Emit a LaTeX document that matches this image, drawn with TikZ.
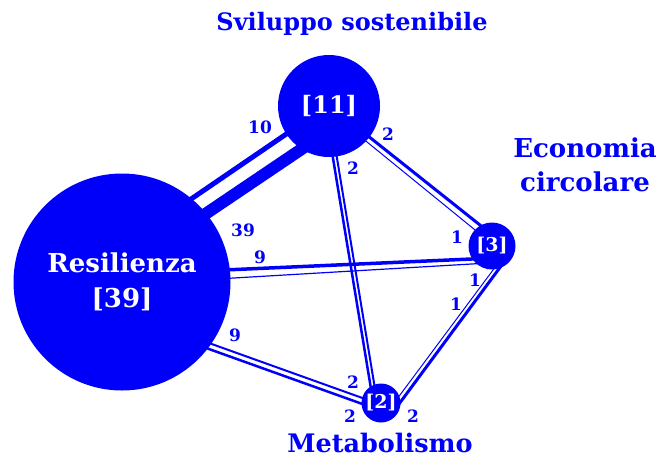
\documentclass[tikz,border=0pt]{standalone}
\usepackage{fontspec}
\setmainfont{DejaVu Serif}
\usetikzlibrary{calc,backgrounds}
\definecolor{netblue}{RGB}{0,0,250}

\begin{document}
\begin{tikzpicture}[x=1pt,y=-1pt,
 hub/.style={circle,fill=netblue,inner sep=0pt,text=white,align=center},
 topic/.style={text=netblue,align=center},
 weight/.style={text=netblue,font=\bfseries\fontsize{17}{17}\selectfont},
 link/.style={draw=netblue}]
 \useasboundingbox (0,0) rectangle (661,459);

 \node (R) [hub,minimum size=217pt,font=\bfseries\fontsize{26}{35}\selectfont] at (122,282) {Resilienza\\{[39]}};
 \node (S) [hub,minimum size=102pt,font=\bfseries\fontsize{24}{26}\selectfont] at (329,106) {[11]};
 \node (E) [hub,minimum size=47pt,font=\bfseries\fontsize{19}{20}\selectfont] at (492,246) {[3]};
 \node (M) [hub,minimum size=39pt,font=\bfseries\fontsize{19}{20}\selectfont] at (381,403) {[2]};

 \node (tS) [topic,font=\bfseries\fontsize{24}{30}\selectfont] at (352,24) {Sviluppo sostenibile};
 \node (tE) [topic,font=\bfseries\fontsize{26}{34}\selectfont] at (585,165) {Economia\\circolare};
 \node (tM) [topic,font=\bfseries\fontsize{25.5}{30}\selectfont] at (380,443) {Metabolismo};

 \begin{scope}[on background layer]
 \draw[link,line width=5pt] ($(R)+(53,-72)$) -- ($(S)+(-28,18)$);
 \draw[link,line width=12pt] ($(R)+(70,-59)$) -- ($(S)+(-14,34)$);
 \draw[link,line width=2.5pt] ($(S)+(1,34)$) -- ($(M)+(-9,-8)$);
 \draw[link,line width=2pt] ($(S)+(5,34)$) -- ($(M)+(-5,-8)$);
 \draw[link,line width=3pt] ($(S)+(29,22)$) -- ($(E)+(-7,-17)$);
 \draw[link,line width=1pt] ($(S)+(27,27)$) -- ($(E)+(-12,-12)$);
 \draw[link,line width=3.5pt] ($(R)+(93,-11.6)$) -- ($(E)+(-7,12.4)$);
 \draw[link,line width=1.2pt] ($(R)+(93,-2.9)$) -- ($(E)+(-7,17.2)$);
 \draw[link,line width=2pt] ($(R)+(78,57.8)$) -- ($(M)+(-6,-0.5)$);
 \draw[link,line width=2.5pt] ($(R)+(78,63.8)$) -- ($(M)+(-6,5.5)$);
 \draw[link,line width=3pt] ($(E)+(12,16)$) -- ($(M)+(18,1)$);
 \draw[link,line width=1pt] ($(E)+(7,16)$) -- ($(M)+(16,-4)$);
 \end{scope}

 \node (wRS) [weight] at (260,127) {10};
 \node (wSR) [weight] at (243,230) {39};
 \node (wSE) [weight] at (388,134) {2};
 \node (wSM) [weight] at (353,168) {2};
 \node (wRE) [weight] at (260,257) {9};
 \node (wRM) [weight] at (235,335) {9};
 \node (wER) [weight] at (457,237) {1};
 \node (wEM) [weight] at (475,280) {1};
 \node (wME) [weight] at (456,304) {1};
 \node (wMS) [weight] at (353,382) {2};
 \node (wMR) [weight] at (350,416) {2};
 \node (wMM) [weight] at (413,416) {2};
\end{tikzpicture}
\end{document}
